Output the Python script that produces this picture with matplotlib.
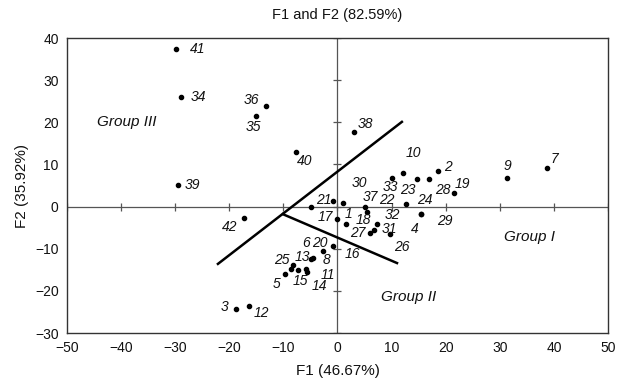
import matplotlib
matplotlib.use("Agg")
import matplotlib.pyplot as plt

plt.rcParams['font.family'] = ['Liberation Sans', 'DejaVu Sans']

# Observation ids and their coordinates on F1/F2
ids = [41, 34, 36, 35, 40, 39, 38, 42, 7, 9, 19, 2, 28, 23, 10, 33,
       17, 21, 30, 1, 18, 37, 22, 32, 31, 27, 26, 24, 29, 4,
       16, 20, 8, 13, 25, 6, 15, 11, 14, 5, 3, 12]
f1 = [-29.9, -28.9, -13.2, -15.1, -7.7, -29.5, 3.0, -17.3, 38.7, 31.3, 21.5, 18.6, 16.9, 14.7, 12.1, 10.1,
      -4.9, -0.8, 1.0, -0.1, 1.6, 5.1, 5.5, 7.3, 6.7, 6.0, 9.7, 12.7, 15.4, 15.4,
      -0.8, -2.7, -4.5, -4.9, -8.2, -8.6, -7.3, -5.8, -5.6, -9.7, -18.8, -16.4]
f2 = [37.4, 26.0, 23.9, 21.5, 13.0, 5.1, 17.6, -2.7, 9.2, 6.8, 3.2, 8.5, 6.6, 6.6, 8.0, 6.8,
      -0.1, 1.3, 0.9, -2.9, -4.1, -0.1, -1.3, -4.1, -5.6, -6.3, -6.5, 0.6, -1.8, -1.8,
      -9.4, -10.5, -12.2, -12.4, -13.9, -14.8, -15.1, -14.8, -15.5, -16.0, -24.3, -23.6]

# label offsets (pixels) from each point
label_dx = [22, 17, -15, -2, 9, 15, 12, -14, 8, 1, 9, 10, 14, -9, 10, -2,
            14, -9, 17, 12, 17, 5, 20, 15, 16, -12, 12, 19, 24, -6,
            19, -3, 13, -9, -11, 15, 2, 22, 12, -8, -11, 13]
label_dy = [0, 0, -6, 11, 9, 0, -8, 9, -9, -12, -9, -4, 11, 11, -20, 9,
            10, -1, -20, -5, -4, -10, -12, -9, -1, 0, 13, -4, 7, 15,
            8, -8, 2, -2, -5, -26, 11, 6, 14, 10, -2, 7]

# separating lines of the groups
line1_x = [-22.1, 11.9]
line1_y = [-13.6, 20.1]
line2_x = [-10.1, 11.0]
line2_y = [-1.8, -13.4]

group_names = ['Group III', 'Group I', 'Group II']
group_x = [-39.0, 35.5, 13.2]
group_y = [20.0, -7.2, -21.4]

xticks = list(range(-50, 51, 10))
yticks = list(range(-30, 41, 10))
title = 'F1 and F2 (82.59%)'
xlabel = 'F1 (46.67%)'
ylabel = 'F2 (35.92%)'

fig = plt.figure(figsize=(6.22, 3.91), dpi=100)
ax = fig.add_axes([0.1077, 0.1483, 0.8698, 0.7545])
ax.set_xlim(-50, 50)
ax.set_ylim(-30, 40)
ax.set_xticks(xticks)
ax.set_yticks(yticks)
ax.set_xticklabels([str(t).replace('-', '\u2212') for t in xticks])
ax.set_yticklabels([str(t).replace('-', '\u2212') for t in yticks])
ax.tick_params(length=0, labelsize=10, pad=6, colors='#111111')
for s in ax.spines.values():
    s.set_color('#333333')
    s.set_linewidth(1.0)

# zero axes with crossing ticks
ax.axhline(0, color='#555555', lw=0.9, zorder=1)
ax.axvline(0, color='#555555', lw=0.9, zorder=1)
ax.plot(xticks, [0] * len(xticks), ls='none', marker='|', ms=6, mew=0.9, color='#555555', zorder=1)
ax.plot([0] * len(yticks), yticks, ls='none', marker='_', ms=6, mew=0.9, color='#555555', zorder=1)

ax.plot(line1_x, line1_y, color='black', lw=1.8, zorder=2)
ax.plot(line2_x, line2_y, color='black', lw=1.8, zorder=2)

ax.scatter(f1, f2, s=9, color='black', zorder=3)
for i, x, y, dx, dy in zip(ids, f1, f2, label_dx, label_dy):
    ax.annotate(str(i), (x, y), xytext=(dx, -dy), textcoords='offset pixels',
                ha='center', va='center', fontsize=10, style='italic', color='#111111')

for name, x, y in zip(group_names, group_x, group_y):
    ax.text(x, y, name, ha='center', va='center', fontsize=11, style='italic', color='#111111')

fig.text(0.5425, 0.962, title, ha='center', va='center', fontsize=10.5, color='#111111')
ax.set_xlabel(xlabel, fontsize=11, labelpad=6, color='#111111')
ax.set_ylabel(ylabel, fontsize=11, labelpad=4, color='#111111')

fig.savefig('out.png', dpi=100)
